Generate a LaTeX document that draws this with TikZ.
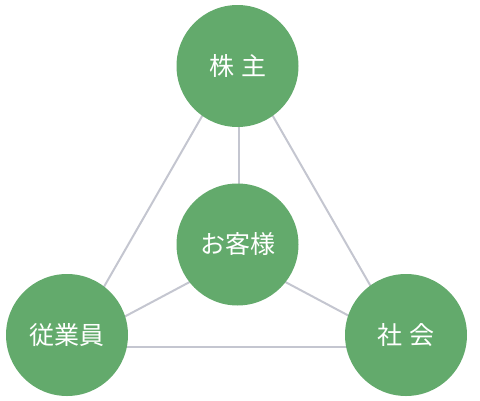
\documentclass[tikz,border=0pt]{standalone}
\usepackage{fontspec}
\newfontfamily\cjk{Noto Sans CJK JP}
\definecolor{ballgreen}{RGB}{99,170,108}
\definecolor{linkgray}{RGB}{196,198,208}
\begin{document}
\begin{tikzpicture}[x=1pt,y=-1pt,
  ball/.style={circle,fill=ballgreen,draw=none,minimum size=122pt,inner sep=0pt,
    text=white,font=\cjk\fontsize{25pt}{29pt}\selectfont},
  link/.style={draw=linkgray,line width=2pt}]
\useasboundingbox (0,0) rectangle (480,400);
% line end points (hidden under the circles)
\coordinate (tl1) at (214.2,95);   \coordinate (tl2) at (93.5,305);
\coordinate (tr1) at (260.8,95);   \coordinate (tr2) at (381.5,305);
\coordinate (tc1) at (238.5,100);  \coordinate (tc2) at (238.5,210);
\coordinate (cl1) at (200,276.5);  \coordinate (cl2) at (110,324.4);
\coordinate (cr1) at (275,276.5);  \coordinate (cr2) at (365,324.4);
\coordinate (b1) at (100,347);     \coordinate (b2) at (375,347);
\draw[link] (tl1) -- (tl2);
\draw[link] (tr1) -- (tr2);
\draw[link] (tc1) -- (tc2);
\draw[link] (cl1) -- (cl2);
\draw[link] (cr1) -- (cr2);
\draw[link] (b1) -- (b2);
\node[ball] (top) at (237.5,66) {株\hspace{7pt}主};
\node[ball] (mid) at (237.5,244.5) {お客様};
\node[ball] (left) at (67,335) {従業員};
\node[ball] (right) at (406,335) {社\hspace{7pt}会};
\end{tikzpicture}
\end{document}
